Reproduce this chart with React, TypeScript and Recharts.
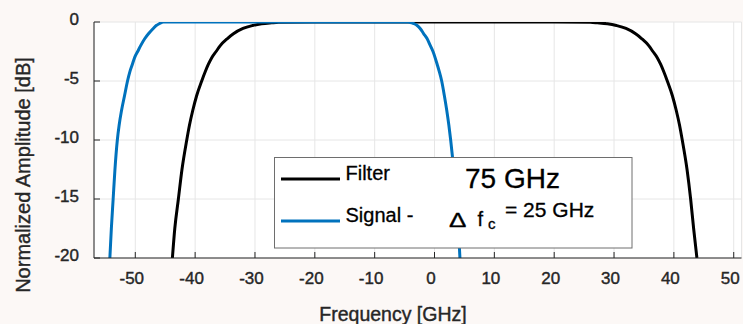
import {
  LineChart,
  Line,
  XAxis,
  YAxis,
  CartesianGrid,
  Legend,
  Label,
} from "recharts";

const FREQ_TICKS = [-50, -40, -30, -20, -10, 0, 10, 20, 30, 40, 50];
const DB_TICKS = [-20, -15, -10, -5, 0];

// filter response (75 GHz)
const filterFreq = [
  -43.8, -43.4, -42.8, -42.2, -41.4, -40.95, -40.4, -39.75, -38.9, -38.3, -37.8, -37.2, -36.5,
  -35.8, -34.6, -33.6, -32.0, -30.4, -28.9, -27.2, -26.0,
  -20, 0, 20,
  26.0, 27.2, 28.9, 30.4, 32.0, 33.6, 34.6, 35.8, 36.5, 37.2, 37.8, 38.3, 38.9, 39.75, 40.4,
  40.95, 41.4, 42.2, 42.8, 43.3, 43.85,
];
const filterDb = [
  -20, -17.5, -15, -12.5, -10, -8.75, -7.5, -6.25, -5, -4.2, -3.6, -3, -2.5,
  -2, -1.4, -1, -0.55, -0.3, -0.15, -0.07, -0.03,
  0, 0, 0,
  -0.03, -0.07, -0.15, -0.3, -0.55, -1, -1.4, -2, -2.5, -3, -3.6, -4.2, -5, -6.25, -7.5,
  -8.75, -10, -12.5, -15, -17.5, -20,
];

// signal spectrum, shifted by delta f_c
const signalFreq = [
  -54.25, -54.0, -53.7, -53.4, -53.0, -52.7, -52.3, -51.8, -51.3, -50.9, -50.5, -50.1, -49.6,
  -49.1, -48.4, -47.8, -47.0, -46.5, -46.0, -45.3,
  -35, -25, -15,
  -4.4, -3.8, -3.4, -2.9, -2.4, -1.8, -1.25, -0.7, -0.25, 0.45, 0.8, 1.2, 1.65, 2.05, 2.4, 2.7,
  3.2, 3.6, 4.0, 4.25,
];
const signalDb = [
  -20, -17.5, -15, -12.5, -10, -8.75, -7.5, -6.25, -5, -4.2, -3.6, -3, -2.5,
  -2, -1.4, -1, -0.55, -0.3, -0.15, 0,
  0, 0, 0,
  0, -0.07, -0.15, -0.3, -0.55, -1, -1.4, -2, -2.5, -3.6, -4.2, -5, -6.25, -7.5, -8.75, -10,
  -12.5, -15, -17.5, -20,
];

const filterData = filterFreq.map((f, i) => ({ f, db: filterDb[i] }));
const signalData = signalFreq.map((f, i) => ({ f, db: signalDb[i] }));

const X_DOMAIN: [number, number] = [-56.9, 51.3];
const Y_DOMAIN: [number, number] = [-20, 0];

const AXIS = "#262626";
const TICK_LEN = 6;
const FONT = "'Liberation Sans', Arial, sans-serif";
const HEAVY = { stroke: AXIS, strokeWidth: 0.4 };

// eslint-disable-next-line @typescript-eslint/no-explicit-any
function BottomTick({ x, y, payload }: any) {
  return (
    <g>
      <line x1={x} x2={x} y1={y} y2={y - TICK_LEN} stroke={AXIS} />
      <text x={x - 3.5} y={y + 25.5} textAnchor="middle" fontSize={17} fill={AXIS} {...HEAVY}>
        {payload.value}
      </text>
    </g>
  );
}

// eslint-disable-next-line @typescript-eslint/no-explicit-any
function TopTick({ x, y }: any) {
  return <line x1={x} x2={x} y1={y} y2={y + TICK_LEN} stroke={AXIS} />;
}

// eslint-disable-next-line @typescript-eslint/no-explicit-any
function LeftTick({ x, y, payload }: any) {
  return (
    <g>
      <line x1={x} x2={x + TICK_LEN} y1={y} y2={y} stroke={AXIS} />
      <text x={x - 15} y={y + 3} textAnchor="end" fontSize={17} fill={AXIS} {...HEAVY}>
        {payload.value}
      </text>
    </g>
  );
}

// eslint-disable-next-line @typescript-eslint/no-explicit-any
function RightTick({ x, y }: any) {
  return <line x1={x} x2={x - TICK_LEN} y1={y} y2={y} stroke={AXIS} />;
}

// eslint-disable-next-line @typescript-eslint/no-explicit-any
function LegendBox({ payload }: any) {
  const items = payload ?? [];
  const ink = { fill: "#000", stroke: "#000", strokeWidth: 0.3 };
  return (
    <svg width={359} height={92} style={{ display: "block", fontFamily: FONT }}>
      <rect x={0.5} y={0.5} width={357.5} height={90.5} fill="#fff" stroke="#6e6e6e" />
      {items.map((entry: { value: string; color: string }, i: number) => (
        <g key={entry.value}>
          <line x1={7} x2={66} y1={22 + 42 * i} y2={22 + 42 * i} stroke={entry.color} strokeWidth={3} />
          <text x={71.5} y={22.5 + 42 * i} fontSize={20} {...ink}>
            {entry.value}
          </text>
        </g>
      ))}
      <text x={191} y={31.3} fontSize={28} {...ink}>
        75 GHz
      </text>
      <text transform="translate(175,70) scale(1.3,1)" fontSize={20} {...ink}>
        Δ
      </text>
      <text x={203.5} y={69} fontSize={20} {...ink}>
        f
      </text>
      <text x={214} y={71.5} fontSize={15} {...ink}>
        c
      </text>
      <text x={231} y={59.7} fontSize={21} {...ink}>
        = 25 GHz
      </text>
    </svg>
  );
}

export default function App() {
  return (
    <div
      style={{
        position: "absolute",
        left: 0,
        top: 0,
        width: 743,
        height: 324,
        background: "#fcf8f6",
        fontFamily: FONT,
      }}
    >
      <LineChart width={743} height={324} margin={{ top: 22, right: 1.5, bottom: 0, left: 0 }}>
        <CartesianGrid stroke="#e6e6e6" fill="#ffffff" />
        <XAxis
          type="number"
          dataKey="f"
          domain={X_DOMAIN}
          ticks={FREQ_TICKS}
          allowDataOverflow
          height={66}
          tickSize={0}
          tickMargin={0}
          tickLine={false}
          tick={<BottomTick />}
          axisLine={{ stroke: AXIS }}
        >
          <Label
            content={() => (
              <text x={393} y={321} textAnchor="middle" fontSize={19.5} fill={AXIS} {...HEAVY}>
                Frequency [GHz]
              </text>
            )}
          />
        </XAxis>
        <XAxis
          xAxisId="top"
          orientation="top"
          type="number"
          domain={X_DOMAIN}
          ticks={FREQ_TICKS}
          allowDataOverflow
          height={0}
          tickSize={0}
          tickMargin={0}
          tickLine={false}
          tick={<TopTick />}
          axisLine={{ stroke: AXIS }}
        />
        <YAxis
          type="number"
          domain={Y_DOMAIN}
          ticks={DB_TICKS}
          allowDataOverflow
          width={94}
          tickSize={0}
          tickMargin={0}
          tickLine={false}
          tick={<LeftTick />}
          axisLine={{ stroke: AXIS }}
        >
          <Label
            content={() => (
              <text
                transform="translate(30,175) rotate(-90)"
                textAnchor="middle"
                fontSize={20}
                fill={AXIS}
                {...HEAVY}
              >
                Normalized Amplitude [dB]
              </text>
            )}
          />
        </YAxis>
        <YAxis
          yAxisId="right"
          orientation="right"
          type="number"
          domain={Y_DOMAIN}
          ticks={DB_TICKS}
          allowDataOverflow
          width={0}
          tickSize={0}
          tickMargin={0}
          tickLine={false}
          tick={<RightTick />}
          axisLine={{ stroke: AXIS }}
        />
        <Legend
          layout="vertical"
          align="center"
          verticalAlign="middle"
          content={<LegendBox />}
          wrapperStyle={{ left: 274, top: 157, width: 359, height: 92, lineHeight: 0 }}
        />
        <Line
          data={filterData}
          dataKey="db"
          name="Filter"
          type="monotone"
          stroke="#000000"
          strokeWidth={3}
          dot={false}
          activeDot={false}
          isAnimationActive={false}
        />
        <Line
          data={signalData}
          dataKey="db"
          name="Signal -"
          type="monotone"
          stroke="#0072bd"
          strokeWidth={3}
          dot={false}
          activeDot={false}
          isAnimationActive={false}
        />
      </LineChart>
    </div>
  );
}
